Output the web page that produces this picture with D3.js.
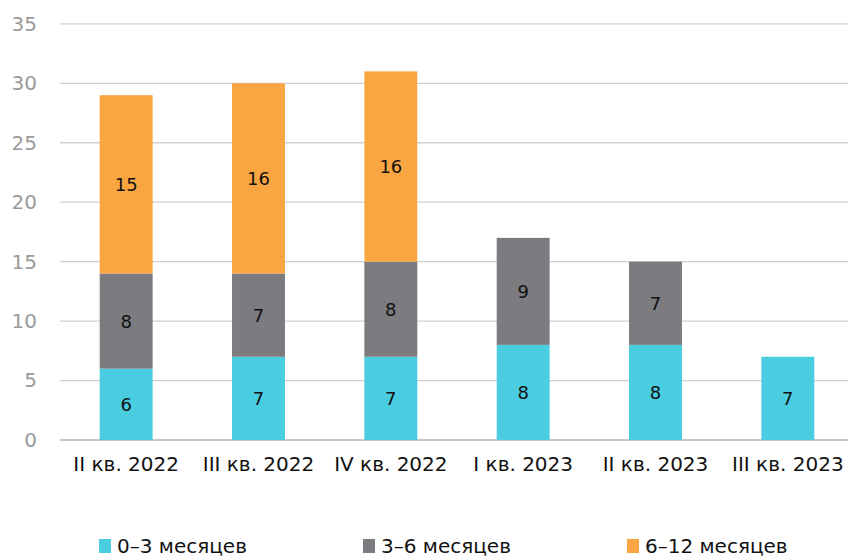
<!DOCTYPE html>
<html>
<head>
<meta charset="utf-8">
<script src="https://cdn.jsdelivr.net/npm/d3@7"></script>
<style>
  body { margin: 0; background: #fff; }
  svg { display: block; font-family: "DejaVu Sans", sans-serif; }
</style>
</head>
<body>
<div id="chart"></div>
<script>
// Data
const quarters = ["II кв. 2022", "III кв. 2022", "IV кв. 2022", "I кв. 2023", "II кв. 2023", "III кв. 2023"];
const series = ["0–3 месяцев", "3–6 месяцев", "6–12 месяцев"];
const m0_3 = [6, 7, 7, 8, 8, 7];
const m3_6 = [8, 7, 8, 9, 7, 0];
const m6_12 = [15, 16, 16, 0, 0, 0];
const yTicks = [0, 5, 10, 15, 20, 25, 30, 35];

const colors = ["#4acde0", "#7b7b80", "#f9a541"];

const width = 848, height = 560;
const margin = {top: 24, right: -6, bottom: 120, left: 60};

const rows = quarters.map((q, i) => ({q: q, a: m0_3[i], b: m3_6[i], c: m6_12[i]}));
const stack = d3.stack().keys(["a", "b", "c"])(rows);

const svg = d3.select("#chart")
  .append("svg")
    .attr("width", width)
    .attr("height", height);

const x = d3.scaleBand()
  .domain(quarters)
  .range([margin.left, width - margin.right])
  .paddingInner(0.6)
  .paddingOuter(0.3);

const y = d3.scaleLinear()
  .domain([0, 35])
  .range([440, 440 - 35 * 11.89]);

// gridlines
svg.append("g")
  .selectAll("line")
  .data(yTicks)
  .join("line")
    .attr("x1", margin.left)
    .attr("x2", width)
    .attr("y1", d => y(d))
    .attr("y2", d => y(d))
    .attr("stroke", d => d === 0 ? "#b5b5b8" : "#d0d0d0")
    .attr("stroke-width", 1.3);

// Y axis labels
const yAxis = svg.append("g")
  .attr("transform", `translate(${margin.left}, 0)`)
  .call(d3.axisLeft(y).tickValues(yTicks).tickSize(0).tickPadding(23));
yAxis.select(".domain").remove();
yAxis.selectAll("text")
  .attr("fill", "#9a9a9a")
  .style("font-size", "20px")
  .style("font-family", "DejaVu Sans, sans-serif");

// bars
svg.append("g")
  .selectAll("g")
  .data(stack)
  .join("g")
    .attr("fill", (d, i) => colors[i])
  .selectAll("rect")
  .data(d => d.filter(p => p[1] > p[0]))
  .join("rect")
    .attr("x", d => x(d.data.q))
    .attr("y", d => y(d[1]))
    .attr("width", x.bandwidth())
    .attr("height", d => y(d[0]) - y(d[1]));

// value labels
svg.append("g")
  .selectAll("g")
  .data(stack)
  .join("g")
  .selectAll("text")
  .data(d => d.filter(p => p[1] > p[0]))
  .join("text")
    .attr("x", d => x(d.data.q) + x.bandwidth() / 2)
    .attr("y", d => y((d[0] + d[1]) / 2))
    .attr("dy", "0.36em")
    .attr("text-anchor", "middle")
    .attr("fill", "#111")
    .style("font-size", "18px")
    .text(d => d[1] - d[0]);

// X axis labels
const xAxis = svg.append("g")
  .attr("transform", "translate(0, 440)")
  .call(d3.axisBottom(x).tickSize(0).tickPadding(17));
xAxis.select(".domain").remove();
xAxis.selectAll("text")
  .attr("fill", "#111")
  .style("font-size", "20px")
  .style("font-family", "DejaVu Sans, sans-serif");

// legend (sits at the bottom edge, as in the original)
const legendX = [99, 363, 627];
const legend = svg.append("g")
  .selectAll("g")
  .data(series)
  .join("g")
    .attr("transform", (d, i) => `translate(${legendX[i]}, 539)`);
legend.append("rect")
  .attr("width", 12)
  .attr("height", 14)
  .attr("fill", (d, i) => colors[i]);
legend.append("text")
  .attr("x", 18)
  .attr("y", 14)
  .attr("fill", "#111")
  .style("font-size", "20px")
  .text(d => d);
</script>
</body>
</html>
